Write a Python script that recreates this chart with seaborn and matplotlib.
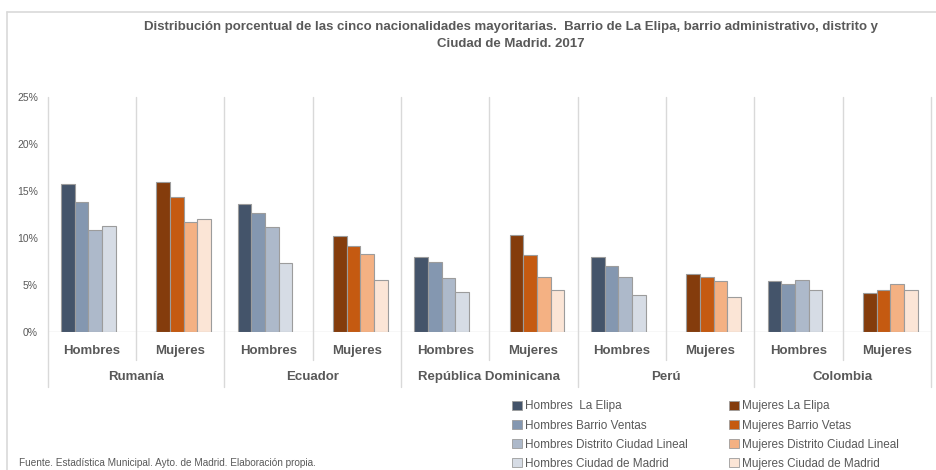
import matplotlib
matplotlib.use("Agg")
import matplotlib.pyplot as plt
from matplotlib.lines import Line2D
from matplotlib.patches import Patch
import matplotlib.transforms as mtransforms
import pandas as pd
import seaborn as sns

# datos (% de población)
paises = ["Rumanía", "Ecuador", "República Dominicana", "Perú", "Colombia"]
sexos = ["Hombres", "Mujeres"]
niveles = ["La Elipa", "Barrio Ventas", "Distrito Ciudad Lineal", "Ciudad de Madrid"]

hombres_elipa = [15.7, 13.6, 8.0, 8.0, 5.4]
hombres_ventas = [13.8, 12.7, 7.5, 7.0, 5.1]
hombres_distrito = [10.9, 11.2, 5.7, 5.9, 5.5]
hombres_madrid = [11.3, 7.3, 4.3, 3.9, 4.5]
mujeres_elipa = [16.0, 10.2, 10.3, 6.2, 4.2]
mujeres_ventas = [14.4, 9.2, 8.2, 5.8, 4.5]
mujeres_distrito = [11.7, 8.3, 5.8, 5.4, 5.1]
mujeres_madrid = [12.0, 5.5, 4.5, 3.7, 4.5]

etiquetas_leyenda = [
    "Hombres  La Elipa", "Hombres Barrio Ventas", "Hombres Distrito Ciudad Lineal", "Hombres Ciudad de Madrid",
    "Mujeres La Elipa", "Mujeres Barrio Vetas", "Mujeres Distrito Ciudad Lineal", "Mujeres Ciudad de Madrid",
]
colores_h = ["#44546a", "#8497b0", "#adb9ca", "#d6dce5"]
colores_m = ["#843c0c", "#c55a11", "#f4b183", "#fbe5d6"]

GRIS = "#595959"
LINEA = "#d9d9d9"

sns.set_theme(style="white")
plt.rcParams["font.family"] = ["Liberation Sans", "DejaVu Sans"]

# tabla larga
series = {
    ("Hombres", "La Elipa"): hombres_elipa,
    ("Hombres", "Barrio Ventas"): hombres_ventas,
    ("Hombres", "Distrito Ciudad Lineal"): hombres_distrito,
    ("Hombres", "Ciudad de Madrid"): hombres_madrid,
    ("Mujeres", "La Elipa"): mujeres_elipa,
    ("Mujeres", "Barrio Ventas"): mujeres_ventas,
    ("Mujeres", "Distrito Ciudad Lineal"): mujeres_distrito,
    ("Mujeres", "Ciudad de Madrid"): mujeres_madrid,
}
filas = []
for (sexo, nivel), vals in series.items():
    for pais, v in zip(paises, vals):
        filas.append({"grupo": f"{pais}|{sexo}", "pais": pais, "sexo": sexo, "nivel": nivel, "valor": v})
df = pd.DataFrame(filas)
orden = [f"{p}|{s}" for p in paises for s in sexos]

fig = plt.figure(figsize=(9.37, 4.70), dpi=100)
ax = fig.add_axes([0.0509, 0.2936, 0.9427, 0.50])

sns.barplot(data=df, x="grupo", y="valor", hue="nivel", order=orden, hue_order=niveles,
            palette=colores_h, saturation=1, width=0.62, errorbar=None, edgecolor="#9c9c9c",
            linewidth=0.8, legend=False, ax=ax)

# colores de mujeres y pequeño desplazamiento como en el original
for j, cont in enumerate(ax.containers):
    for i, bar in enumerate(cont):
        if i % 2 == 1:
            bar.set_facecolor(colores_m[j])
            bar.set_x(bar.get_x() + 0.04)
        else:
            bar.set_x(bar.get_x() - 0.04)

ax.set_xlim(-0.5, len(orden) - 0.5)
ax.set_ylim(0, 25)
ax.set_yticks(range(0, 26, 5))
ax.set_yticklabels([f"{v}%" for v in range(0, 26, 5)], color=GRIS, fontsize=7.5)
ax.tick_params(axis="y", length=0, pad=7)
ax.set_xticks([])
ax.set_xlabel("")
ax.set_ylabel("")
for s in ax.spines.values():
    s.set_visible(False)
ax.axhline(0, color=LINEA, lw=1, zorder=0)

trans = mtransforms.blended_transform_factory(ax.transData, ax.transAxes)
for k in range(len(orden) + 1):
    x = k - 0.5
    abajo = -0.234 if k % 2 == 0 else -0.119
    ax.add_line(Line2D([x, x], [abajo, 1.0], transform=trans, color=LINEA, lw=1,
                       clip_on=False, zorder=0))

for i, g in enumerate(orden):
    ax.text(i, -0.081, g.split("|")[1], transform=trans, ha="center", va="center",
            fontsize=9.5, fontweight="bold", color=GRIS)
for i, p in enumerate(paises):
    ax.text(2 * i + 0.5, -0.191, p, transform=trans, ha="center", va="center",
            fontsize=9.5, fontweight="bold", color=GRIS)

fig.text(0.545, 0.955, "Distribución porcentual de las cinco nacionalidades mayoritarias.  Barrio de La Elipa, barrio administrativo, distrito y\nCiudad de Madrid. 2017",
         ha="center", va="top", fontsize=9.5, fontweight="bold", color=GRIS, linespacing=1.5)

handles = [Patch(facecolor=c, edgecolor="#9c9c9c", linewidth=0.6) for c in colores_h + colores_m]
fig.legend(handles, etiquetas_leyenda, ncol=2, loc="upper left", bbox_to_anchor=(0.5465, 0.148),
           frameon=False, fontsize=8.5, labelcolor=GRIS, handlelength=0.8, handleheight=0.8,
           handletextpad=0.3, columnspacing=3.5, labelspacing=0.6, borderaxespad=0, borderpad=0)

fig.text(0.02, 0.004, "Fuente. Estadística Municipal. Ayto. de Madrid. Elaboración propia.",
         ha="left", va="bottom", fontsize=7.2, color=GRIS)

# marco del gráfico
fig.add_artist(Line2D([7 / 937, 7 / 937], [0, 1 - 12 / 470], color=LINEA, lw=1.2))
fig.add_artist(Line2D([7 / 937, 1], [1 - 12 / 470, 1 - 12 / 470], color=LINEA, lw=1.2))

fig.savefig("out.png", dpi=100)
